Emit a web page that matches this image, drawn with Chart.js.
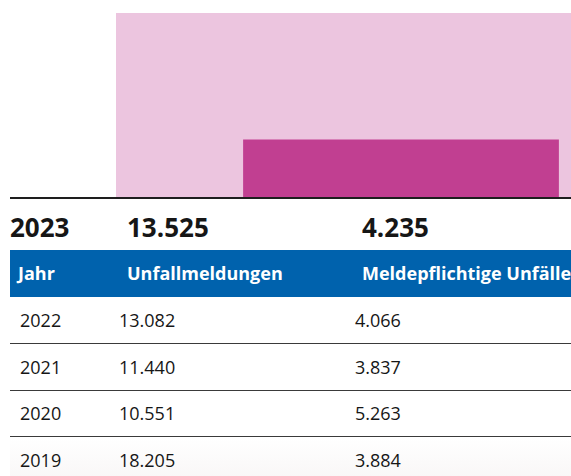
<!DOCTYPE html>
<html lang="de">
<head>
<meta charset="utf-8">
<script src="https://cdn.jsdelivr.net/npm/chart.js@4"></script>
<style>
    html, body { margin: 0; padding: 0; background: #fff; overflow: hidden; }
    body { width: 571px; height: 476px; position: relative; font-family: "Open Sans", sans-serif; color: #161616; }
    #chartBox { position: absolute; left: 116px; top: 13px; width: 570px; height: 184px; }
    .baseline { position: absolute; left: 10px; right: 0; top: 197px; height: 2px; background: #1e1e1e; }
    .cell { position: absolute; white-space: nowrap; }
    .current { top: 208px; height: 38px; line-height: 38px; font-size: 26px; font-weight: 700; }
    .head { position: absolute; left: 10px; right: 0; top: 250px; height: 47px; background: #0062ad; overflow: hidden; }
    .head .cell { top: 0; line-height: 47px; font-size: 18px; font-weight: 700; color: #fff; }
    .row { position: absolute; left: 10px; right: 0; height: 46px; border-bottom: 1.5px solid #3a3a3a; }
    .row:last-child { border-bottom: none; background: linear-gradient(#fff, #f8f6f6); }
    .row .cell { top: 0; line-height: 46px; font-size: 18px; }
</style>
</head>
<body>
<div id="chartBox"><canvas id="accidentChart"></canvas></div>
<div class="baseline"></div>
<div id="table"></div>

<script>
const years = ['2023', '2022', '2021', '2020', '2019'];
const unfallmeldungen = [13525, 13082, 11440, 10551, 18205];
const meldepflichtige = [4235, 4066, 3837, 5263, 3884];
const headers = ['Jahr', 'Unfallmeldungen', 'Meldepflichtige Unfälle'];

function fmt(n) {
    return n.toLocaleString('de-DE');
}

function createChart() {
    const ctx = document.getElementById('accidentChart').getContext('2d');
    new Chart(ctx, {
        type: 'bar',
        data: {
            labels: [years[0]],
            datasets: [{
                label: headers[2],
                data: [meldepflichtige[0]],
                backgroundColor: '#c13f91',
                barPercentage: 0.554,
                categoryPercentage: 1,
                order: 0
            }, {
                label: headers[1],
                data: [unfallmeldungen[0]],
                backgroundColor: '#ecc5df',
                barPercentage: 1,
                categoryPercentage: 1,
                order: 1
            }]
        },
        options: {
            responsive: true,
            maintainAspectRatio: false,
            animation: false,
            layout: { padding: 0 },
            datasets: { bar: { grouped: false, borderWidth: 0 } },
            scales: {
                x: { display: false },
                y: { display: false, min: 0, max: unfallmeldungen[0] }
            },
            plugins: {
                legend: { display: false },
                tooltip: { enabled: false }
            }
        }
    });
}

function addCell(parent, text, left, cls) {
    const el = document.createElement('div');
    el.className = 'cell' + (cls ? ' ' + cls : '');
    el.style.left = left + 'px';
    el.textContent = text;
    parent.appendChild(el);
}

function createTable() {
    const table = document.getElementById('table');

    // aktuelles Jahr, groß über dem Tabellenkopf
    addCell(table, years[0], 10, 'current');
    addCell(table, fmt(unfallmeldungen[0]), 127, 'current');
    addCell(table, fmt(meldepflichtige[0]), 362, 'current');

    const head = document.createElement('div');
    head.className = 'head';
    addCell(head, headers[0], 8, '');
    addCell(head, headers[1], 117, '');
    addCell(head, headers[2], 352, '');
    table.appendChild(head);

    const rows = document.createElement('div');
    table.appendChild(rows);
    for (let i = 1; i < years.length; i++) {
        const row = document.createElement('div');
        row.className = 'row';
        row.style.top = (297 + (i - 1) * 46.5) + 'px';
        addCell(row, years[i], 10, '');
        addCell(row, fmt(unfallmeldungen[i]), 109, '');
        addCell(row, fmt(meldepflichtige[i]), 345, '');
        rows.appendChild(row);
    }
}

createChart();
createTable();
</script>
</body>
</html>
